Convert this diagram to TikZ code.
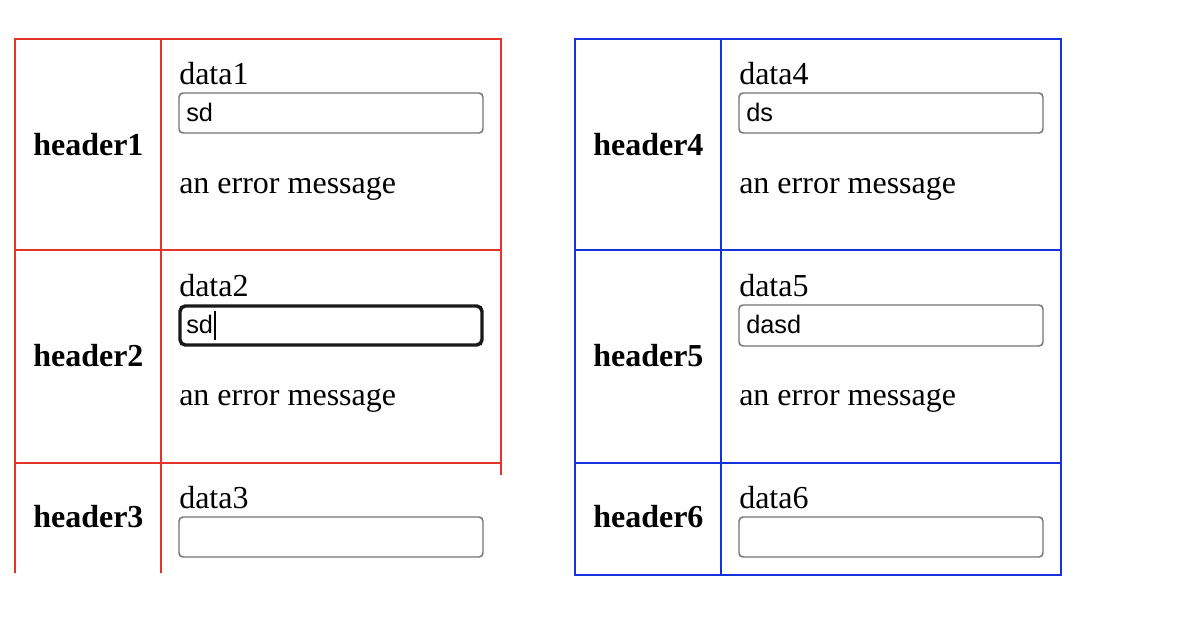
\documentclass[tikz,border=0pt]{standalone}
\usepackage{fontspec}
\setmainfont{Liberation Serif}
\setsansfont{Liberation Sans}
\definecolor{tabred}{RGB}{228,52,40}
\definecolor{tabblue}{RGB}{22,50,222}
\tikzset{
  cell/.style={line width=1.5pt},
  field/.style={draw=black!55, line width=1.1pt, rounded corners=3pt},
  focused/.style={draw=black!90, line width=2.6pt, rounded corners=4pt},
  hdr/.style={font=\fontsize{24}{28}\selectfont\bfseries, anchor=base west, inner sep=0pt},
  lbl/.style={font=\fontsize{24}{28}\selectfont, anchor=base west, inner sep=0pt},
  val/.style={font=\sffamily\fontsize{19}{22}\selectfont, anchor=base west, inner sep=0pt}
}
\begin{document}
\begin{tikzpicture}[x=0.75pt, y=-0.75pt]
  \useasboundingbox (0,0) rectangle (1196,636);
  % Left table
  \begin{scope}
    \draw[cell, tabred] (15,573) -- (15,39) -- (501,39) -- (501,475);
    \draw[cell, tabred] (161,39) -- (161,573);
    \draw[cell, tabred] (15,250) -- (501,250);
    \draw[cell, tabred] (15,463) -- (501,463);
    \node[hdr] (h1) at (33,155) {header1};
    \node[lbl] (d1) at (179,84) {data1};
    \draw[field] (179,93) rectangle (483,133);
    \node[val] (v1) at (186,121) {sd};
    \node[lbl] (e1) at (179,193) {an error message};
    \node[hdr] (h2) at (33,366) {header2};
    \node[lbl] (d2) at (179,296) {data2};
    \draw[focused] (180,306) rectangle (482,345);
    \node[val] (v2) at (186,333) {sd};
    \draw[line width=1pt] (215,311) -- (215,340);
    \node[lbl] (e2) at (179,405) {an error message};
    \node[hdr] (h3) at (33,527) {header3};
    \node[lbl] (d3) at (179,508) {data3};
    \draw[field] (179,517) rectangle (483,557);
  \end{scope}
  % Right table
  \begin{scope}[xshift=420pt]
    \draw[cell, tabblue] (15,39) rectangle (501,575);
    \draw[cell, tabblue] (161,39) -- (161,575);
    \draw[cell, tabblue] (15,250) -- (501,250);
    \draw[cell, tabblue] (15,463) -- (501,463);
    \node[hdr] (h4) at (33,155) {header4};
    \node[lbl] (d4) at (179,84) {data4};
    \draw[field] (179,93) rectangle (483,133);
    \node[val] (v4) at (186,121) {ds};
    \node[lbl] (e4) at (179,193) {an error message};
    \node[hdr] (h5) at (33,366) {header5};
    \node[lbl] (d5) at (179,296) {data5};
    \draw[field] (179,305) rectangle (483,346);
    \node[val] (v5) at (186,333) {dasd};
    \node[lbl] (e5) at (179,405) {an error message};
    \node[hdr] (h6) at (33,527) {header6};
    \node[lbl] (d6) at (179,508) {data6};
    \draw[field] (179,517) rectangle (483,557);
  \end{scope}
\end{tikzpicture}
\end{document}
